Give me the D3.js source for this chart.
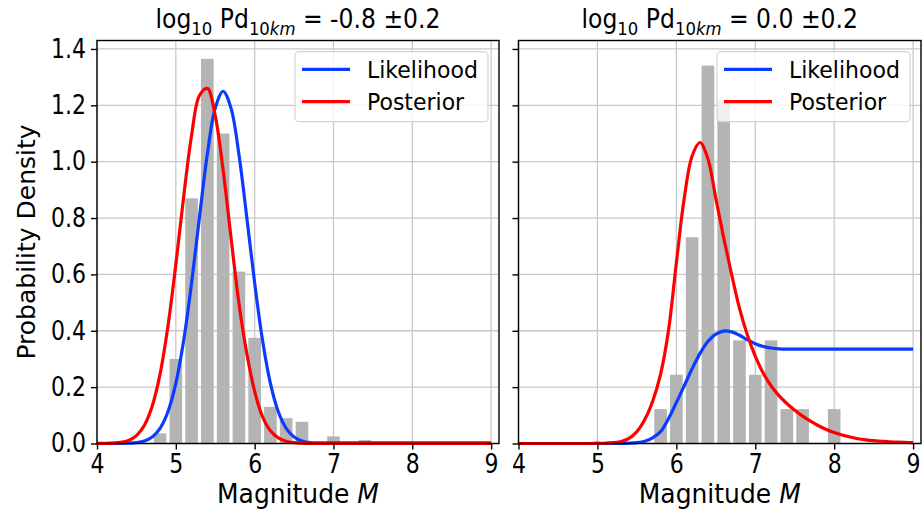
<!DOCTYPE html>
<html>
<head>
<meta charset="utf-8">
<script src="https://cdn.jsdelivr.net/npm/d3@7"></script>
<style>
body { margin: 0; background: #fff; }
text { font-family: "DejaVu Sans", sans-serif; }
</style>
</head>
<body>
<script>
// magnitude grid used by the curves
var gridM = [4.0,4.1,4.2,4.3,4.4,4.5,4.6,4.7,4.8,4.9,
             5.0,5.1,5.2,5.3,5.4,5.5,5.6,5.7,5.8,5.9,
             6.0,6.1,6.2,6.3,6.4,6.5,6.6,6.7,6.8,6.9,
             7.0,7.1,7.2,7.3,7.4,7.5,7.6,7.7,7.8,7.9,
             8.0,8.1,8.2,8.3,8.4,8.5,8.6,8.7,8.8,8.9,9.0];

// left panel: log10 Pd = -0.8
var leftLikelihood = [0,0,0.0001,0.0003,0.0011,0.0033,0.0092,0.0234,0.054,0.1125,
                      0.213,0.366,0.570,0.803,1.027,1.190,1.250,1.190,1.027,0.803,
                      0.570,0.366,0.213,0.1125,0.054,0.0234,0.0092,0.0033,0.002,0.002,
                      0.002,0.002,0.002,0.002,0.002,0.002,0.002,0.002,0.002,0.002,
                      0.002,0.002,0.002,0.002,0.002,0.002,0.002,0.002,0.002,0.002,0.002];
var leftPosterior = [0.0001,0.0004,0.0013,0.004,0.011,0.028,0.064,0.132,0.246,0.416,
                     0.635,0.877,1.094,1.235,1.260,1.163,0.970,0.731,0.499,0.32,
                     0.185,0.095,0.045,0.02,0.008,0.003,0.001,0,0,0,
                     0,0,0,0,0,0,0,0,0,0,
                     0,0,0,0,0,0,0,0,0,0,0];
var leftBinCenters = [4.8,5.0,5.2,5.4,5.6,5.8,6.0,6.2,6.4,6.6,7.0,7.4];
var leftBinHeights = [0.036,0.30,0.87,1.365,1.10,0.61,0.375,0.13,0.09,0.077,0.025,0.012];

// right panel: log10 Pd = 0.0
var rightLikelihood = [0,0,0,0,0,0,0,0,0,0,
                       0,0,0,0,0.001,0.003,0.008,0.02,0.042,0.088,
                       0.145,0.205,0.265,0.32,0.362,0.388,0.399,0.396,0.384,0.368,
                       0.354,0.344,0.339,0.336,0.335,0.335,0.335,0.335,0.335,0.335,
                       0.335,0.335,0.335,0.335,0.335,0.335,0.335,0.335,0.335,0.335,0.335];
var rightPosterior = [0,0,0,0,0,0,0,0,0,0,
                      0.001,0.001,0.003,0.007,0.018,0.042,0.085,0.15,0.245,0.40,
                      0.64,0.87,1.02,1.068,1.01,0.87,0.73,0.60,0.48,0.385,
                      0.31,0.25,0.205,0.17,0.142,0.118,0.097,0.079,0.063,0.05,
                      0.039,0.03,0.023,0.017,0.013,0.01,0.008,0.006,0.005,0.004,0.003];
var rightBinCenters = [5.8,6.0,6.2,6.4,6.6,6.8,7.0,7.2,7.4,7.6,8.0];
var rightBinHeights = [0.122,0.244,0.732,1.341,1.22,0.366,0.244,0.366,0.122,0.122,0.122];

// ticks and labels
var xTicks = [4,5,6,7,8,9];
var yTicks = [0,0.2,0.4,0.6,0.8,1.0,1.2,1.4];
var seriesNames = ['Likelihood','Posterior'];
var titleValues = ['-0.8','0.0'];

var binWidth = 0.2, rWidth = 0.8;
var blue = '#0a3cff', red = '#ff0000', barColor = '#b4b4b4', gridColor = '#c8c8c8';

var svg = d3.select('body').append('svg')
    .attr('width', 924)
    .attr('height', 514);

var plotTop = 40.5, plotBottom = 443.5;

/**
 * stretch text vertically around a fixed y
 */
function stretchY(sel, s, y0) {
    sel.attr('transform', 'translate(0,' + y0 + ') scale(1,' + s + ') translate(0,' + (-y0) + ')');
}

/**
 * draw one panel
 */
function drawPanel(x0, x1, like, post, centers, heights, titleVal, showY) {
    var x = d3.scaleLinear().domain([4, 9.1]).range([x0, x1]);
    var y = d3.scaleLinear().domain([0, 1.43]).range([plotBottom, plotTop]);
    var g = svg.append('g');

    // grid
    g.selectAll('.vgrid').data(xTicks).enter().append('line')
        .attr('x1', d => x(d)).attr('x2', d => x(d))
        .attr('y1', plotTop).attr('y2', plotBottom)
        .attr('stroke', gridColor).attr('stroke-width', 1.3);
    g.selectAll('.hgrid').data(yTicks).enter().append('line')
        .attr('x1', x0).attr('x2', x1)
        .attr('y1', d => y(d)).attr('y2', d => y(d))
        .attr('stroke', gridColor).attr('stroke-width', 1.3);

    // histogram
    g.selectAll('.bar').data(centers).enter().append('rect')
        .attr('x', d => x(d - binWidth * rWidth / 2))
        .attr('width', d => x(d + binWidth * rWidth / 2) - x(d - binWidth * rWidth / 2))
        .attr('y', (d, i) => y(heights[i]))
        .attr('height', (d, i) => y(0) - y(heights[i]))
        .attr('fill', barColor);

    // curves
    var line = d3.line()
        .x((d, i) => x(gridM[i]))
        .y(d => y(d))
        .curve(d3.curveCatmullRom.alpha(0.5));
    g.append('path').attr('d', line(like))
        .attr('fill', 'none').attr('stroke', blue).attr('stroke-width', 3.2);
    g.append('path').attr('d', line(post))
        .attr('fill', 'none').attr('stroke', red).attr('stroke-width', 3.2);

    // legend
    var bw = 193, bh = 70, bx = x1 - 11 - bw, by = 51.7;
    var lg = g.append('g');
    lg.append('rect').attr('x', bx).attr('y', by).attr('width', bw).attr('height', bh)
        .attr('rx', 4).attr('fill', 'white').attr('fill-opacity', 0.8)
        .attr('stroke', '#d4d4d4').attr('stroke-width', 1.2);
    [blue, red].forEach(function(c, i) {
        var ly = by + 17.6 + i * 32.4;
        lg.append('line').attr('x1', bx + 7).attr('x2', bx + 55)
            .attr('y1', ly).attr('y2', ly)
            .attr('stroke', c).attr('stroke-width', 3.2);
        lg.append('text').attr('x', bx + 72).attr('y', ly + 8)
            .attr('font-size', 22).attr('fill', '#000')
            .text(seriesNames[i])
            .call(stretchY, 1.06, ly);
    });

    // axes
    var xAxis = g.append('g').attr('transform', 'translate(0,' + plotBottom + ')')
        .call(d3.axisBottom(x).tickValues(xTicks).tickSize(6).tickPadding(5).tickFormat(d3.format('d')));
    var yAxis = g.append('g').attr('transform', 'translate(' + x0 + ',0)')
        .call(d3.axisLeft(y).tickValues(yTicks).tickSize(6).tickPadding(5)
            .tickFormat(showY ? d3.format('.1f') : ''));
    [xAxis, yAxis].forEach(function(a) {
        a.select('.domain').remove();
        a.selectAll('line').attr('stroke', '#000').attr('stroke-width', 1.4);
        a.selectAll('text').attr('font-size', 22).attr('font-family', '"DejaVu Sans", sans-serif').attr('fill', '#000');
    });
    xAxis.selectAll('text').call(stretchY, 1.18, 11);
    yAxis.selectAll('text').call(stretchY, 1.18, 0);

    // spines
    g.append('rect').attr('x', x0).attr('y', plotTop).attr('width', x1 - x0).attr('height', plotBottom - plotTop)
        .attr('fill', 'none').attr('stroke', '#000').attr('stroke-width', 1.4);

    // title
    var cx = (x0 + x1) / 2;
    var t = g.append('text').attr('x', cx).attr('y', 28)
        .attr('text-anchor', 'middle').attr('font-size', 23.5)
        .call(stretchY, 1.1, 28);
    t.append('tspan').text('log');
    t.append('tspan').attr('dy', 6).attr('font-size', 16.5).text('10');
    t.append('tspan').attr('dy', -6).text('\u00a0Pd');
    t.append('tspan').attr('dy', 6).attr('font-size', 16.5).text('10');
    t.append('tspan').attr('font-size', 16.5).attr('font-style', 'italic').text('km');
    t.append('tspan').attr('dy', -6).text('\u00a0=\u00a0' + titleVal + '\u00a0\u00b10.2');

    // x label
    var xl = g.append('text').attr('x', cx).attr('y', 503)
        .attr('text-anchor', 'middle').attr('font-size', 25)
        .call(stretchY, 1.06, 503);
    xl.append('tspan').text('Magnitude\u00a0');
    xl.append('tspan').attr('font-style', 'italic').text('M');
}

drawPanel(97, 499, leftLikelihood, leftPosterior, leftBinCenters, leftBinHeights, titleValues[0], true);
drawPanel(518.5, 921, rightLikelihood, rightPosterior, rightBinCenters, rightBinHeights, titleValues[1], false);

// y label
svg.append('text')
    .attr('transform', 'translate(35,' + ((plotTop + plotBottom) / 2) + ') rotate(-90)')
    .attr('text-anchor', 'middle').attr('font-size', 25)
    .text('Probability Density');
</script>
</body>
</html>
